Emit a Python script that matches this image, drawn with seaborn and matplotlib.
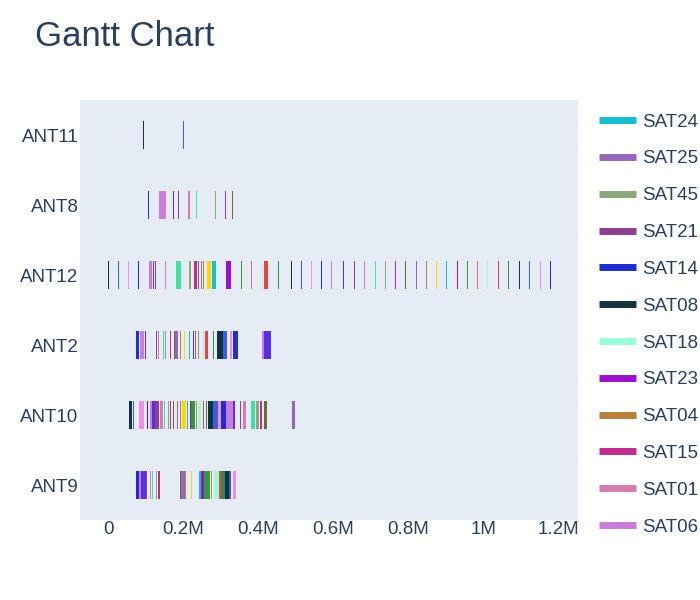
import matplotlib
matplotlib.use("Agg")
import matplotlib.pyplot as plt
from matplotlib.lines import Line2D
import seaborn as sns
import pandas as pd

sns.set_theme(style="dark")
plt.rcParams['font.family'] = ['Liberation Sans', 'DejaVu Sans']

antennas = ["ANT11", "ANT8", "ANT12", "ANT2", "ANT10", "ANT9"]

# starts / ends in thousands of seconds (None end = thin single pass)
ant11_start = [93, 200]
ant11_end = [None, None]
ant8_start = [107, 136, 173, 187, 213, 235, 285, 312, 331]
ant8_end = [None, 155, None, None, 219, None, None, None, None]
ant12_start = [0, 27, 53, 80, 109, 120, 125, 152, 181, 216, 229, 240, 248, 253, 264, 277, 315, 355, 381, 411, 416,
               453, 488, 515, 541, 568, 595, 627, 656, 683, 712, 739, 765, 792, 821, 848, 875, 901, 931, 957, 984,
               1011, 1040, 1067, 1096, 1123, 1152, 1179]
ant12_end = [None, None, None, None, 117, None, None, None, 195, 221, 237, 243, None, None, 275, 288, 328, None, None,
             None, 427] + [None] * 27
ant2_start = [75, 85, 99, 128, 133, 147, 152, 165, 176, 179, 192, 203, 216, 227, 232, 240, 253, 259, 280, 291, 307,
              325, 333, 411, 416]
ant2_end = [83, 96, None, None, None, None, None, None, None, 187, None, None, None, None, None, None, None, 267,
            None, 307, 317, 331, 347, 416, 435]
ant10_start = [56, 67, 83, 104, 112, 117, 125, 139, 149, 160, 165, 173, 184, 192, 197, 211, 219, 221, 235, 240, 253,
               261, 267, 280, 293, 301, 315, 333, 352, 360, 381, 395, 405, 416, 491]
ant10_end = [64, None, 96, None, 117, 125, 136, 147, None, None, None, None, None, None, 208, None, None, 232, None,
             248, None, None, 280, 293, 301, 315, 333, 339, None, 368, 392, 403, 411, 424, 499]
ant9_start = [75, 83, 88, 101, 112, 117, 128, 133, 192, 195, 205, 221, 243, 248, 256, 275, 283, 296, 301, 312, 323, 333]
ant9_end = [83, 88, 101, 104, None, None, None, 139, 195, 205, 208, 224, 248, 256, 272, None, 296, 301, 312, 323, 328, 341]

satellites = ["SAT24", "SAT25", "SAT45", "SAT21", "SAT14", "SAT08", "SAT18", "SAT23", "SAT04", "SAT15", "SAT01",
              "SAT06", "SAT10", "SAT33", "SAT02", "SAT39", "SAT12", "SAT30", "SAT07", "SAT41", "SAT19", "SAT27"]
sat_colors = ["#17BECF", "#9467BD", "#8CA77B", "#8E3F8E", "#1F2FCF", "#17323F", "#99FFD6", "#9B0FCF", "#B8803A",
              "#C02D8C", "#D67BB0", "#C97DD8", "#3B5EE0", "#F04040", "#2CA02C", "#FFD700", "#6B6B2E", "#40E0A0",
              "#5A2EE6", "#F08DE6", "#2E8B57", "#E07070"]

rows = []
for ant, st, en in [("ANT11", ant11_start, ant11_end), ("ANT8", ant8_start, ant8_end),
                    ("ANT12", ant12_start, ant12_end), ("ANT2", ant2_start, ant2_end),
                    ("ANT10", ant10_start, ant10_end), ("ANT9", ant9_start, ant9_end)]:
    for i, (s, e) in enumerate(zip(st, en)):
        e = s + 2.5 if e is None else e
        rows.append(dict(ant=ant, start=s * 1000, dur=(e - s) * 1000,
                         sat=satellites[(i * 7 + len(ant)) % len(satellites)]))
df = pd.DataFrame(rows)
cmap = dict(zip(satellites, sat_colors))

fig = plt.figure(figsize=(7, 6), dpi=100)
ax = fig.add_axes([80 / 700, 80 / 600, 498 / 700, 420 / 600])
ax.set_facecolor("#E5ECF6")
ypos = {a: i for i, a in enumerate(antennas)}
for _, r in df.iterrows():
    ax.barh(ypos[r.ant], r.dur, left=r.start, height=0.4, color=cmap[r.sat], linewidth=0)
ax.set_ylim(len(antennas) - 0.5, -0.5)
ax.set_xlim(-75000, 1253000)
ax.set_yticks(range(len(antennas)))
ax.set_yticklabels(antennas)
ax.set_xticks([0, 200000, 400000, 600000, 800000, 1000000, 1200000])
ax.set_xticklabels(["0", "0.2M", "0.4M", "0.6M", "0.8M", "1M", "1.2M"])
ax.tick_params(colors="#2a3f5f", labelsize=13.5, length=0, pad=1)
for lbl in ax.get_xticklabels() + ax.get_yticklabels():
    lbl.set_color("#2a3f5f")
for sp in ax.spines.values():
    sp.set_visible(False)
ax.grid(False)

fig.text(35 / 700, 1 - 36 / 600, "Gantt Chart", fontsize=25, color="#2a3f5f", va="center")

leg_sats = satellites[:12]
handles = [Line2D([0], [0], color=cmap[s], lw=5, solid_capstyle="butt") for s in leg_sats]
fig.legend(handles, leg_sats, loc="upper left", bbox_to_anchor=(591 / 700, 1 - 106 / 600), frameon=False,
           fontsize=13.5, labelcolor="#2a3f5f", handlelength=2.0, handletextpad=0.35, labelspacing=1.05,
           borderaxespad=0)
fig.savefig("out.png", dpi=100)
